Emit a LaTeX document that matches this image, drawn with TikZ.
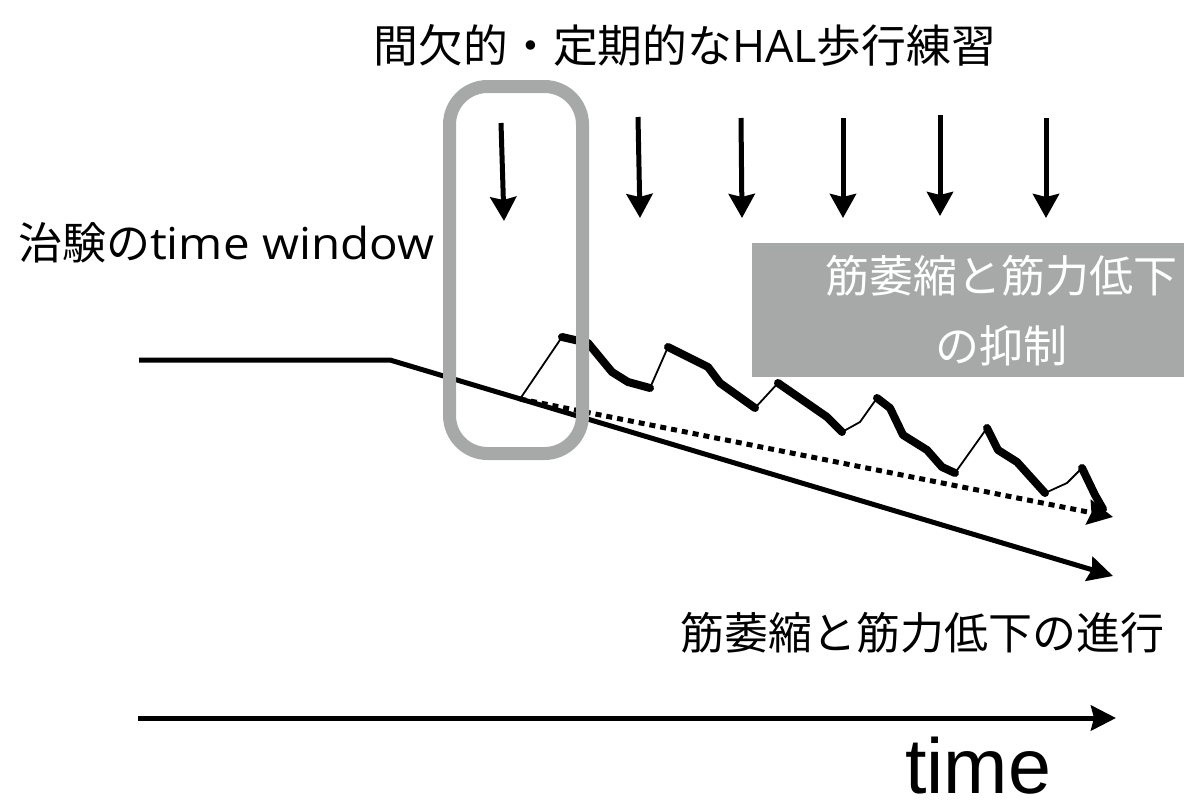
\documentclass[tikz,border=0pt]{standalone}
\usepackage{fontspec}
\newfontfamily\cjk{Noto Sans CJK JP}
\newfontfamily\lat{Liberation Sans}
\newfontfamily\latb{Open Sans}
\usetikzlibrary{arrows.meta}
\definecolor{boxgray}{RGB}{166,169,168}
\begin{document}
\begin{tikzpicture}[x=1pt,y=-1pt,
  txt/.style={inner sep=0pt, anchor=base, font=\cjk\fontsize{44}{52}\selectfont},
  tipstyle/.style={-{Stealth[length=25pt,width=25pt,inset=3pt]}},
  mainline/.style={line width=5pt, tipstyle, line join=miter},
  downarrow/.style={line width=5pt, -{Stealth[length=24pt,width=26pt,inset=3pt]}},
  dotline/.style={line width=5pt, dash pattern=on 6pt off 5pt, tipstyle},
  thinzig/.style={line width=1.8pt, line join=round},
  thickzig/.style={line width=8pt, line join=round, line cap=round}]
\useasboundingbox (0,0) rectangle (1184,809);

% gray box (suppression)
\node (gbox) [fill=boxgray, minimum width=432pt, minimum height=134pt, inner sep=0pt, anchor=north west] at (752,243) {};

% coordinates of main curves
\coordinate (h0) at (139,360);
\coordinate (h1) at (390,360);
\coordinate (h2) at (1113,576);
\coordinate (ax0) at (138,718);
\coordinate (ax1) at (1116,718);
\coordinate (dtip) at (1113,517);

\coordinate (z0) at (520,399);
\coordinate (z1) at (562,337);
\coordinate (z2) at (588,343);
\coordinate (z3) at (612,372);
\coordinate (z4) at (628,382);
\coordinate (z5) at (650,388);
\coordinate (z6) at (668,347);
\coordinate (z7) at (708,367);
\coordinate (z8) at (720,383);
\coordinate (z9) at (755,408);
\coordinate (z10) at (778,383);
\coordinate (z11) at (827,417);
\coordinate (z12) at (842,432);
\coordinate (z13) at (860,422);
\coordinate (z14) at (877,398);
\coordinate (z15) at (890,408);
\coordinate (z16) at (903,435);
\coordinate (z17) at (927,450);
\coordinate (z18) at (942,467);
\coordinate (z19) at (955,473);
\coordinate (z20) at (987,428);
\coordinate (z21) at (998,450);
\coordinate (z22) at (1017,462);
\coordinate (z23) at (1045,493);
\coordinate (z24) at (1067,483);
\coordinate (z25) at (1082,468);
\coordinate (z26) at (1095,495);
\coordinate (z27) at (1103,509);

% progression line
\draw[mainline] (h0) -- (h1) -- (h2);
% dotted expected line
\draw[dotline] (z0) -- (dtip);
% zigzag
\draw[thinzig] (z0) -- (z1) -- (z2) -- (z3) -- (z4) -- (z5) -- (z6) -- (z7) -- (z8) -- (z9) -- (z10) -- (z11) -- (z12) -- (z13) -- (z14) -- (z15) -- (z16) -- (z17) -- (z18) -- (z19) -- (z20) -- (z21) -- (z22) -- (z23) -- (z24) -- (z25) -- (z26) -- (z27);
\draw[thickzig] (z1) -- (z2) -- (z3) -- (z4) -- (z5);
\draw[thickzig] (z6) -- (z7) -- (z8) -- (z9);
\draw[thickzig] (z10) -- (z11) -- (z12);
\draw[thickzig] (z14) -- (z15) -- (z16) -- (z17) -- (z18) -- (z19);
\draw[thickzig] (z20) -- (z21) -- (z22) -- (z23);
\draw[thickzig] (z25) -- (z26) -- (z27);

% time axis
\draw[mainline] (ax0) -- (ax1);

% time window
\node (win) [draw=boxgray, line width=13pt, rounded corners=38pt, minimum width=133pt, minimum height=367pt, inner sep=0pt] at (516,270) {};

% training arrows
\coordinate (a0s) at (501,123); \coordinate (a0e) at (504,221);
\coordinate (a1s) at (638,117); \coordinate (a1e) at (640,218);
\coordinate (a2s) at (741,118); \coordinate (a2e) at (742,218);
\coordinate (a3s) at (843,118); \coordinate (a3e) at (843,218);
\coordinate (a4s) at (940,115); \coordinate (a4e) at (940,216);
\coordinate (a5s) at (1046,118); \coordinate (a5e) at (1046,218);
\foreach \i in {0,...,5} {\draw[downarrow] (a\i s) -- (a\i e);}

% texts
\node (title) [txt, font=\cjk\fontsize{44.8}{52}\selectfont] at (685,62) {間欠的・定期的な{\latb HAL}歩行練習};
\node (twin) [txt, anchor=base west] at (18,259) {治験の\scalebox{1.08}[1]{\latb time window}};
\node (sup1) [txt, white] at (1001,292) {筋萎縮と筋力低下};
\node (sup2) [txt, white] at (1001,362) {の抑制};
\node (prog) [txt] at (922,649) {筋萎縮と筋力低下の進行};
\node (time) [inner sep=0pt, anchor=base, font=\lat\fontsize{78}{90}\selectfont, xscale=0.99] at (978,793) {time};
\end{tikzpicture}
\end{document}
